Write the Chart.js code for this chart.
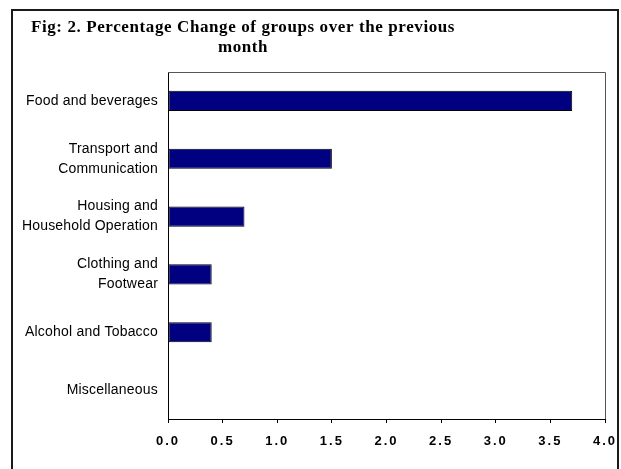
<!DOCTYPE html>
<html>
<head>
<meta charset="utf-8">
<script src="https://cdn.jsdelivr.net/npm/chart.js@4/dist/chart.umd.min.js"></script>
<style>
html,body{margin:0;padding:0;background:#fff;}
canvas{display:block;}
</style>
</head>
<body>
<canvas id="c" width="621" height="469"></canvas>
<script>
const titleLines = ["Fig: 2. Percentage Change of groups over the previous", "month"];
const categories = [
  "Food and beverages",
  ["Transport and", "Communication"],
  ["Housing and", "Household Operation"],
  ["Clothing and", "Footwear"],
  "Alcohol and Tobacco",
  "Miscellaneous"
];
const values = [3.7, 1.5, 0.7, 0.4, 0.4, 0];
const xTicks = [0, 0.5, 1, 1.5, 2, 2.5, 3, 3.5, 4];

function wrapLabels(scale, spacing) {
  if (scale._lsWrapped) return;
  const orig = scale.drawLabels;
  scale.drawLabels = function(area) {
    const c = this.ctx;
    const prev = c.letterSpacing;
    c.letterSpacing = spacing;
    orig.call(this, area);
    c.letterSpacing = prev || '0px';
  };
  scale._lsWrapped = true;
}

const framePlugin = {
  id: 'frame',
  beforeDraw(chart) {
    const ctx = chart.ctx;
    ctx.save();
    ctx.fillStyle = '#ffffff';
    ctx.fillRect(0, 0, chart.width, chart.height);
    ctx.strokeStyle = '#1a1a1a';
    ctx.lineWidth = 2;
    ctx.strokeRect(12, 10, 606, 470);
    // title
    ctx.fillStyle = '#000';
    ctx.font = 'bold 17px "Liberation Serif", "Times New Roman", serif';
    ctx.letterSpacing = '0.6px';
    ctx.textAlign = 'center';
    ctx.textBaseline = 'alphabetic';
    ctx.fillText(titleLines[0], 243, 32);
    ctx.fillText(titleLines[1], 243, 52);
    ctx.restore();
    wrapLabels(chart.scales.x, '2px');
    wrapLabels(chart.scales.y, '0.2px');
  },
  afterDraw(chart) {
    const a = chart.chartArea;
    const ctx = chart.ctx;
    ctx.save();
    ctx.lineWidth = 1;
    ctx.strokeStyle = '#555';
    ctx.beginPath();
    ctx.moveTo(a.left, a.top + 0.5);
    ctx.lineTo(a.right + 0.5, a.top + 0.5);
    ctx.lineTo(a.right + 0.5, a.bottom);
    ctx.stroke();
    ctx.restore();
  }
};

new Chart(document.getElementById('c'), {
  type: 'bar',
  data: {
    labels: categories,
    datasets: [{
      data: values,
      backgroundColor: '#000080',
      borderColor: '#000000',
      borderWidth: 1,
      borderSkipped: false,
      barPercentage: 0.35,
      categoryPercentage: 1
    }]
  },
  options: {
    indexAxis: 'y',
    responsive: false,
    animation: false,
    layout: { padding: { top: 72, right: 16, left: 0, bottom: 0 } },
    plugins: {
      legend: { display: false },
      title: { display: false },
      tooltip: { enabled: false }
    },
    scales: {
      x: {
        min: 0,
        max: 4,
        afterBuildTicks(scale) { scale.ticks = xTicks.map(v => ({ value: v })); },
        afterFit(scale) { scale.height = 50; scale.paddingLeft = 0; scale.paddingRight = 0; },
        grid: { display: true, drawOnChartArea: false, drawTicks: true, tickLength: 4, color: '#000' },
        border: { display: true, color: '#000', width: 1 },
        ticks: {
          color: '#000',
          padding: 11,
          maxRotation: 0,
          autoSkip: false,
          font: { family: '"Liberation Sans", Arial, sans-serif', size: 13, weight: 'bold' },
          callback: (v) => Number(v).toFixed(1)
        }
      },
      y: {
        afterFit(scale) { scale.width = 168; scale.paddingTop = 0; scale.paddingBottom = 0; },
        grid: { display: false, drawTicks: false },
        border: { display: true, color: '#000', width: 1 },
        ticks: {
          color: '#000',
          padding: 10,
          autoSkip: false,
          font: { family: '"Liberation Sans", Arial, sans-serif', size: 14, lineHeight: 1.43 }
        }
      }
    }
  },
  plugins: [framePlugin]
});
</script>
</body>
</html>
